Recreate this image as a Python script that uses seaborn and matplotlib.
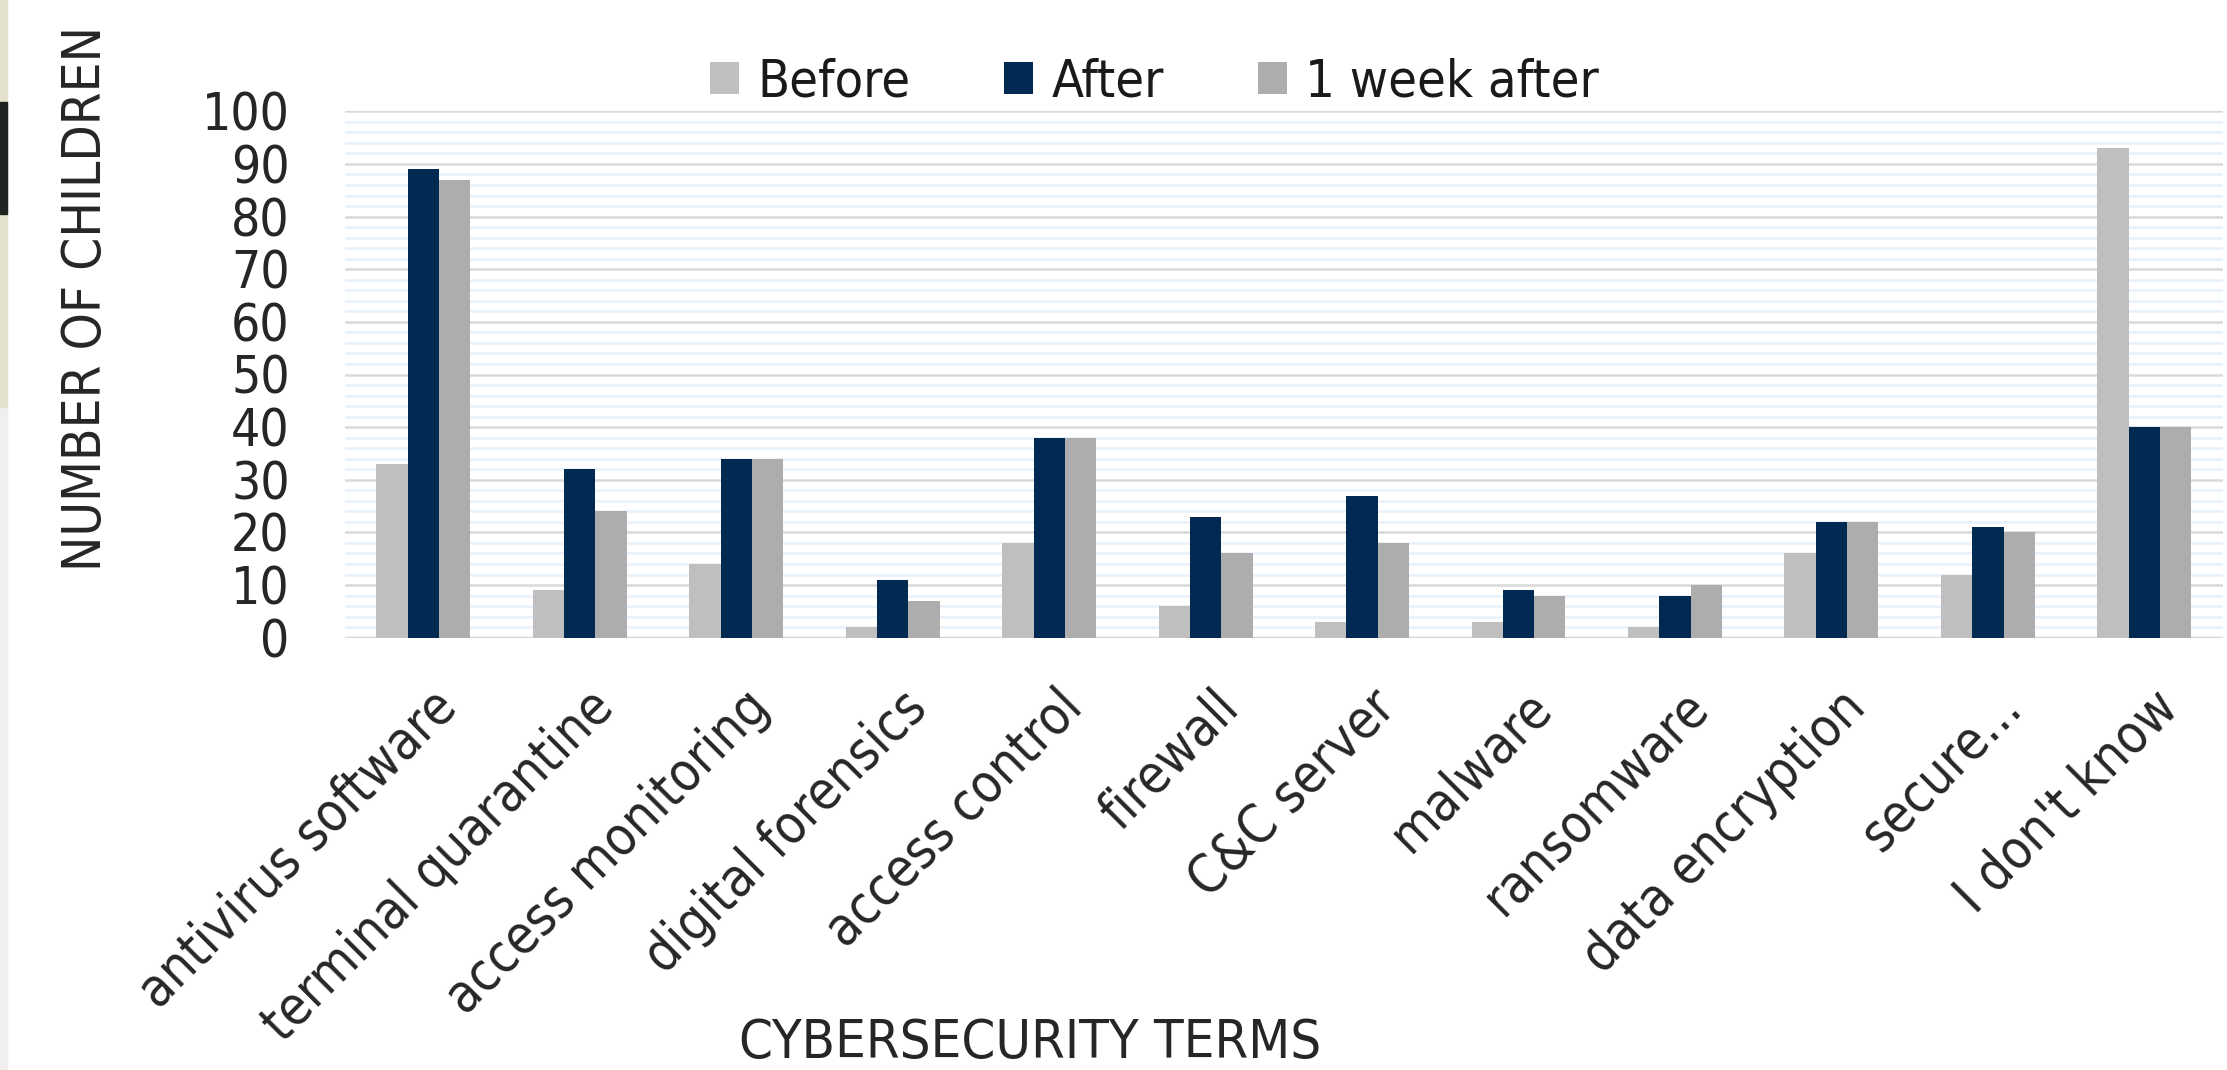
import numpy as np
import pandas as pd
import matplotlib.pyplot as plt
import matplotlib.transforms as mtransforms
import seaborn as sns
from matplotlib.ticker import MultipleLocator
from matplotlib.patches import Rectangle

# data
terms = ['antivirus software', 'terminal quarantine', 'access monitoring',
         'digital forensics', 'access control', 'firewall', 'C&C server',
         'malware', 'ransomware', 'data encryption', 'secure...', "I don't know"]
before = [33, 9, 14, 2, 18, 6, 3, 3, 2, 16, 12, 93]
after = [89, 32, 34, 11, 38, 23, 27, 9, 8, 22, 21, 40]
week_after = [87, 24, 34, 7, 38, 16, 18, 8, 10, 22, 20, 40]
periods = ['Before', 'After', '1 week after']
colors = {'Before': '#BFBFBF', 'After': '#012A53', '1 week after': '#ADADAD'}

df = pd.DataFrame({
    'term': terms * 3,
    'period': np.repeat(periods, len(terms)),
    'count': before + after + week_after,
})

sns.set_theme(style='white')
plt.rcParams['font.family'] = ['DejaVu Sans']
plt.rcParams['font.stretch'] = 'condensed'
plt.rcParams['text.color'] = '#1A1A1A'

fig = plt.figure(figsize=(22.27, 10.70), dpi=100)
ax = fig.add_axes([0.155, 0.404, 0.843, 0.492])

# strip at the left edge of the scan
fig.patches.append(Rectangle((0, 0), 0.0032, 1, transform=fig.transFigure,
                             color='#EFEFEF', zorder=-5))
fig.patches.append(Rectangle((0, 0.62), 0.0032, 0.38, transform=fig.transFigure,
                             color='#E4E1CF', zorder=-4))
fig.patches.append(Rectangle((0, 0.80), 0.0032, 0.105, transform=fig.transFigure,
                             color='#1E2420', zorder=-3))

sns.barplot(data=df, x='term', y='count', hue='period', palette=colors,
            width=0.6, gap=0, saturation=1, edgecolor='none', ax=ax)

ax.set_xlim(-0.5, len(terms) - 0.5)
ax.set_ylim(0, 100)
ax.yaxis.set_major_locator(MultipleLocator(10))
ax.yaxis.set_minor_locator(MultipleLocator(2))
ax.set_axisbelow(True)
ax.grid(which='minor', axis='y', color='#EAF2FB', lw=2)
ax.grid(which='major', axis='y', color='#D9D9D9', lw=1.8)
ax.axhline(0, color='#BDD7EE', lw=2.5, zorder=0.5)
for s in ax.spines.values():
    s.set_visible(False)

ax.tick_params(axis='y', which='both', length=0, pad=40, labelsize=37)
ax.tick_params(axis='x', length=0, pad=31, labelsize=38)
shift = mtransforms.ScaledTranslation(0.07, 0, fig.dpi_scale_trans)
for lab in ax.get_xticklabels():
    lab.set_rotation(45)
    lab.set_ha('right')
    lab.set_va('top')
    lab.set_rotation_mode('anchor')
    lab.set_transform(lab.get_transform() + shift)

ax.set_ylabel('NUMBER OF CHILDREN', fontsize=38)
ax.yaxis.set_label_coords(-0.124, 0.645)
ax.set_xlabel('CYBERSECURITY TERMS', fontsize=39)
ax.xaxis.set_label_coords(0.365, -0.72)

sns.move_legend(ax, 'center', bbox_to_anchor=(0.431, 1.055), ncol=3,
                frameon=False, title=None, fontsize=37.5,
                handlelength=0.56, handleheight=0.56, handletextpad=0.35,
                columnspacing=1.8)

fig.savefig('out.png', dpi=100)
